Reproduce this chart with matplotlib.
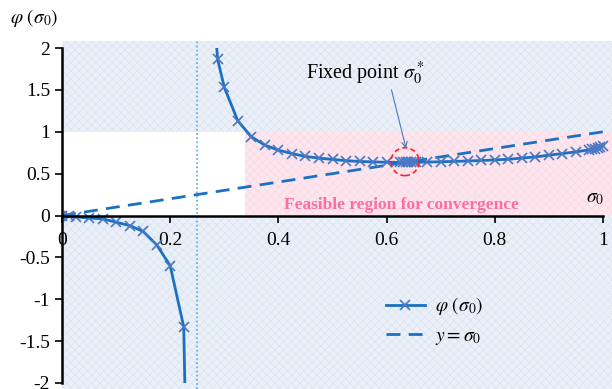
import matplotlib
matplotlib.use('Agg')
import matplotlib.pyplot as plt
from matplotlib.patches import Rectangle, Ellipse

plt.rcParams['font.family'] = ['Liberation Serif', 'DejaVu Serif']
plt.rcParams['mathtext.fontset'] = 'stix'
plt.rcParams['hatch.linewidth'] = 0.5

# phi(sigma0) sampled on both sides of the pole
sigma_left = [0, 0.0125, 0.025, 0.05, 0.075, 0.1, 0.125, 0.15, 0.175, 0.2, 0.225, 0.2375]
phi_left = [0, -0.01, -0.015, -0.03, -0.04, -0.08, -0.12, -0.19, -0.35, -0.60, -1.33, -5.5]

sigma_right = [0.275, 0.2875, 0.3, 0.325, 0.35, 0.375, 0.4, 0.425, 0.45, 0.475, 0.5,
               0.525, 0.55, 0.575, 0.6, 0.625, 0.63, 0.635, 0.64, 0.645, 0.65, 0.655,
               0.675, 0.7, 0.725, 0.75, 0.775, 0.8, 0.825, 0.85, 0.875, 0.9, 0.925,
               0.95, 0.975, 0.98, 0.985, 0.99, 0.995, 1.0]
phi_right = [3.0, 1.87, 1.53, 1.13, 0.94, 0.84, 0.78, 0.74, 0.705, 0.685, 0.67,
             0.655, 0.645, 0.64, 0.636, 0.635, 0.635, 0.635, 0.635, 0.636, 0.636, 0.637,
             0.638, 0.642, 0.646, 0.651, 0.657, 0.664, 0.672, 0.685, 0.70, 0.72, 0.74,
             0.76, 0.785, 0.79, 0.80, 0.81, 0.82, 0.83]

identity_x = [0, 1]
identity_y = [0, 1]

pole = 0.25
feasible_x = (0.338, 1.1)
feasible_y = (0, 1)
fixed_point = (0.634, 0.643)

x_ticks = [0, 0.2, 0.4, 0.6, 0.8, 1]
x_ticklabels = ['0', '0.2', '0.4', '0.6', '0.8', '1']
y_ticks = [-2, -1.5, -1, -0.5, 0, 0.5, 1, 1.5, 2]
y_ticklabels = ['-2', '-1.5', '-1', '-0.5', '0', '0.5', '1', '1.5', '2']

line_c = '#1a70c2'
mark_c = '#4a78c4'

fig = plt.figure(figsize=(6.12, 3.89), dpi=100)
ax = fig.add_axes([62 / 612, 0, 550 / 612, 348 / 389])
ax.set_xlim(0, 1.0166)
ax.set_ylim(-2.072, 2.084)
ax.patch.set_visible(False)

# textured backgrounds
ax.add_patch(Rectangle((0, 0), 1, 1, transform=ax.transAxes, facecolor='#ebf0f8',
                       edgecolor='#dbe3f0', hatch='xxxx', linewidth=0, zorder=0))
ax.add_patch(Rectangle((0, 0), 2, 1, facecolor='white', linewidth=0, zorder=0.5))
ax.add_patch(Rectangle((feasible_x[0], feasible_y[0]), feasible_x[1] - feasible_x[0],
                       feasible_y[1] - feasible_y[0], facecolor='#fde6ee',
                       edgecolor='#fbd8e3', hatch='xxxx', linewidth=0, zorder=0.6))

ax.axvline(pole, color='#5aa5de', linestyle=(0, (1, 1.5)), linewidth=1.2, zorder=1)

# plot area proper runs from -2 to 2
plot_area = Rectangle((0, -2), 1.1, 4, transform=ax.transData)

ax.plot(identity_x, identity_y, color=line_c, linestyle=(0, (5, 3)), linewidth=2,
        zorder=2, label=r'$y = \sigma_0$')
for xs, ys, lab in [(sigma_left, phi_left, None),
                    (sigma_right, phi_right, r'$\varphi\ (\sigma_0)$')]:
    ln, = ax.plot(xs, ys, color=line_c, linewidth=2, marker='x', markersize=7,
                  markeredgecolor=mark_c, markeredgewidth=1.2, zorder=3, label=lab)
    ln.set_clip_path(plot_area)

ax.add_patch(Ellipse(fixed_point, 0.052, 0.333, fill=False, edgecolor='#ff2020',
                     linestyle=(0, (3, 2)), linewidth=1.2, zorder=4))
ax.annotate('', xy=(0.636, 0.80), xytext=(0.609, 1.50),
            arrowprops=dict(arrowstyle='->', color='#4a78c4', linewidth=0.8,
                            shrinkA=0, shrinkB=0), zorder=5)
ax.text(0.56, 1.70, r'Fixed point $\sigma_0^*$', fontsize=14.5, ha='center', va='center')
ax.text(0.41, 0.13, 'Feasible region for convergence', fontsize=12.5, fontweight='bold',
        color='#ff6d9b', ha='left', va='center', zorder=5)
ax.text(0.985, 0.2, r'$\sigma_0$', fontsize=14, ha='center', va='center')
fig.text(10 / 612, 1 - 18 / 389, r'$\varphi\ (\sigma_0)$', fontsize=14, ha='left', va='center')

for s in ['top', 'right']:
    ax.spines[s].set_visible(False)
ax.spines['bottom'].set_position(('data', 0))
ax.spines['bottom'].set_bounds(0, 1)
ax.spines['left'].set_bounds(-2, 2)
for s in ['bottom', 'left']:
    ax.spines[s].set_linewidth(1.8)
    ax.spines[s].set_zorder(6)

ax.set_xticks(x_ticks)
ax.set_xticklabels(x_ticklabels)
ax.set_yticks(y_ticks)
ax.set_yticklabels(y_ticklabels)
ax.tick_params(axis='both', direction='out', length=5, width=1.2, labelsize=14, color='black')
ax.tick_params(axis='x', pad=7)

handles, labels = ax.get_legend_handles_labels()
ax.legend(handles[::-1], labels[::-1], loc='center', bbox_to_anchor=(0.677, 0.195),
          frameon=False, fontsize=14, handlelength=2.0, handletextpad=0.5)

fig.savefig('out.png', dpi=100)
